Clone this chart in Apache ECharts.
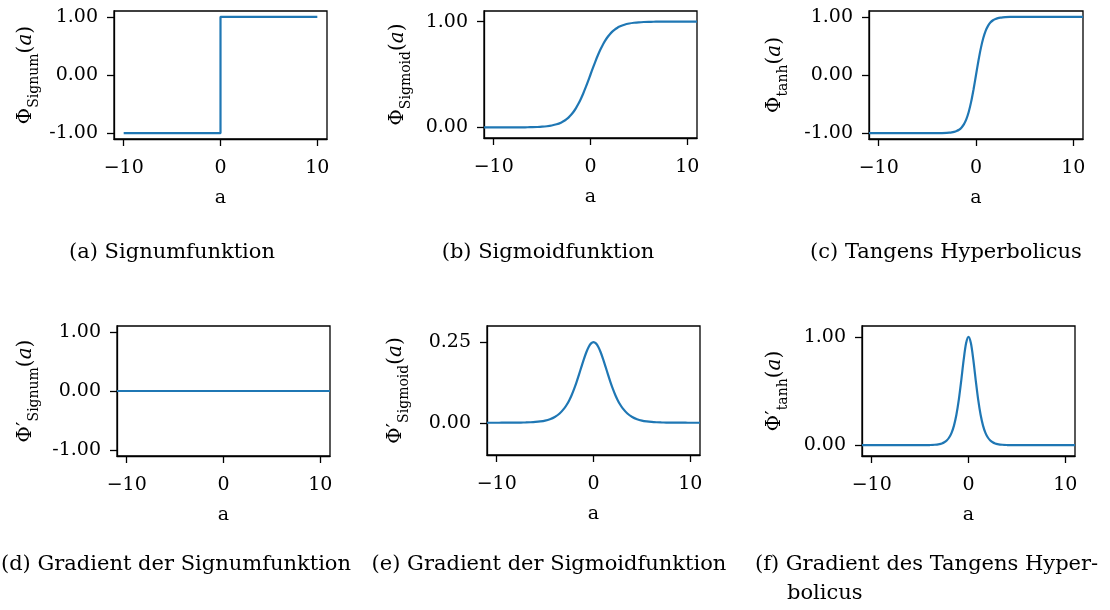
<!DOCTYPE html>
<html><head><meta charset="utf-8">
<script src="https://cdn.jsdelivr.net/npm/echarts@6/dist/echarts.min.js"></script>
<style>html,body{margin:0;padding:0;background:#fff}#c{width:1110px;height:610px}</style>
</head><body><div id="c"></div>
<script>
// ---- data ----
const signX = [-10, 0, 0, 10];
const signY = [-1, -1, 1, 1];
const signGradX = [-11, 11];
const signGradY = [0, 0];

const aValues = [-11,-10.5,-10,-9.5,-9,-8.5,-8,-7.5,-7,-6.5,-6,-5.5,-5,-4.5,-4,-3.5,-3,
  -2.75,-2.5,-2.25,-2,-1.75,-1.5,-1.25,-1,-0.75,-0.5,-0.25,0,0.25,0.5,0.75,1,1.25,1.5,1.75,2,2.25,2.5,2.75,
  3,3.5,4,4.5,5,5.5,6,6.5,7,7.5,8,8.5,9,9.5,10,10.5,11];

const sigmoidY = [0.0000,0.0000,0.0000,0.0001,0.0001,0.0002,0.0003,0.0006,0.0009,0.0015,0.0025,0.0041,0.0067,0.0110,0.0180,0.0293,0.0474,
  0.0601,0.0759,0.0953,0.1192,0.1480,0.1824,0.2227,0.2689,0.3208,0.3775,0.4378,0.5000,0.5622,0.6225,0.6792,0.7311,0.7773,0.8176,0.8520,0.8808,0.9047,0.9241,0.9399,
  0.9526,0.9707,0.9820,0.9890,0.9933,0.9959,0.9975,0.9985,0.9991,0.9994,0.9997,0.9998,0.9999,0.9999,1.0000,1.0000,1.0000];

const sigmoidGradY = [0.0000,0.0000,0.0000,0.0001,0.0001,0.0002,0.0003,0.0006,0.0009,0.0015,0.0025,0.0041,0.0066,0.0109,0.0177,0.0285,0.0452,
  0.0565,0.0701,0.0862,0.1050,0.1261,0.1491,0.1731,0.1966,0.2179,0.2350,0.2461,0.2500,0.2461,0.2350,0.2179,0.1966,0.1731,0.1491,0.1261,0.1050,0.0862,0.0701,0.0565,
  0.0452,0.0285,0.0177,0.0109,0.0066,0.0041,0.0025,0.0015,0.0009,0.0006,0.0003,0.0002,0.0001,0.0001,0.0000,0.0000,0.0000];

const tanhY = [-1.0000,-1.0000,-1.0000,-1.0000,-1.0000,-1.0000,-1.0000,-1.0000,-1.0000,-1.0000,-1.0000,-1.0000,-0.9999,-0.9998,-0.9993,-0.9982,-0.9951,
  -0.9919,-0.9866,-0.9780,-0.9640,-0.9414,-0.9051,-0.8483,-0.7616,-0.6351,-0.4621,-0.2449,0.0000,0.2449,0.4621,0.6351,0.7616,0.8483,0.9051,0.9414,0.9640,0.9780,0.9866,0.9919,
  0.9951,0.9982,0.9993,0.9998,0.9999,1.0000,1.0000,1.0000,1.0000,1.0000,1.0000,1.0000,1.0000,1.0000,1.0000,1.0000,1.0000];

const tanhGradY = [0.0000,0.0000,0.0000,0.0000,0.0000,0.0000,0.0000,0.0000,0.0000,0.0000,0.0000,0.0001,0.0002,0.0005,0.0013,0.0036,0.0099,
  0.0161,0.0266,0.0435,0.0707,0.1138,0.1807,0.2804,0.4200,0.5966,0.7864,0.9400,1.0000,0.9400,0.7864,0.5966,0.4200,0.2804,0.1807,0.1138,0.0707,0.0435,0.0266,0.0161,
  0.0099,0.0036,0.0013,0.0005,0.0002,0.0001,0.0000,0.0000,0.0000,0.0000,0.0000,0.0000,0.0000,0.0000,0.0000,0.0000,0.0000];

const xTicks = [-10, 0, 10];
const yTicksPM = [-1, 0, 1];
const yTicks01 = [0, 1];
const yTicksSigGrad = [0, 0.25];

const yLabelSubs = ['Signum', 'Sigmoid', 'tanh', 'Signum', 'Sigmoid', 'tanh'];
const captionsTop = ['(a) Signumfunktion', '(b) Sigmoidfunktion', '(c) Tangens Hyperbolicus'];
const captionsBottom = ['(d) Gradient der Signumfunktion', '(e) Gradient der Sigmoidfunktion', '(f) Gradient des Tangens Hyper-', 'bolicus'];

// ---- layout ----
const F = 'DejaVu Serif';
const BLUE = '#1f77b4';
const panels = [
  {left:114, top:11,  width:213, height:128, ymin:-1.1, ymax:1.1, ticks:yTicksPM, gap:73, prime:false},
  {left:484, top:11,  width:213, height:127, ymin:-0.1, ymax:1.1, ticks:yTicks01, gap:71, prime:false},
  {left:869, top:11,  width:214, height:128, ymin:-1.1, ymax:1.1, ticks:yTicksPM, gap:79, prime:false},
  {left:117, top:326, width:213, height:130, ymin:-1.1, ymax:1.1, ticks:yTicksPM, gap:76, prime:true},
  {left:487, top:326, width:213, height:129, ymin:-0.1, ymax:0.3, ticks:yTicksSigGrad, gap:76, prime:true},
  {left:862, top:326, width:213, height:130, ymin:-0.1, ymax:1.1, ticks:yTicks01, gap:72, prime:true}
];
const seriesData = [
  signX.map((x,i)=>[x, signY[i]]),
  aValues.map((x,i)=>[x, sigmoidY[i]]),
  aValues.map((x,i)=>[x, tanhY[i]]),
  signGradX.map((x,i)=>[x, signGradY[i]]),
  aValues.map((x,i)=>[x, sigmoidGradY[i]]),
  aValues.map((x,i)=>[x, tanhGradY[i]])
];

const lineCol = {color:'#000', width:1.3};
const rich = {
  p: {fontFamily:F, fontSize:20, lineHeight:30, color:'#000'},
  q: {fontFamily:F, fontSize:20, lineHeight:30, color:'#000'},
  s: {fontFamily:F, fontSize:14, lineHeight:15, verticalAlign:'bottom', color:'#000'},
  m: {fontFamily:F, fontSize:20, lineHeight:30, color:'#000'},
  i: {fontFamily:F, fontSize:20, lineHeight:30, fontStyle:'italic', color:'#000'}
};

const grid = [], xAxis = [], yAxis = [], series = [];
panels.forEach((p, k) => {
  grid.push({left:p.left, top:p.top, width:p.width, height:p.height, show:true, borderColor:'#000', borderWidth:1.3, backgroundColor:'transparent'});
  xAxis.push({
    type:'value', gridIndex:k, min:-11, max:11,
    name:'a', nameLocation:'middle', nameGap:50,
    nameTextStyle:{fontFamily:F, fontSize:19, color:'#000'},
    axisLine:{show:true, onZero:false, lineStyle:lineCol},
    axisTick:{show:true, length:7, lineStyle:lineCol, customValues:xTicks},
    axisLabel:{customValues:xTicks, margin:20, fontFamily:F, fontSize:19, color:'#000',
      formatter:v => v < 0 ? '\u2212' + Math.abs(v) : String(v)},
    splitLine:{show:false}
  });
  yAxis.push({
    type:'value', gridIndex:k, min:p.ymin, max:p.ymax,
    name:'{p|Φ}' + (p.prime ? '{q|′}' : '') + '{s|' + yLabelSubs[k] + '}{m|(}{i|a}{m|)}',
    nameLocation:'middle', nameRotate:90, nameGap:p.gap,
    nameTextStyle:{rich:rich, fontFamily:F, fontSize:20, color:'#000'},
    axisLine:{show:true, onZero:false, lineStyle:lineCol},
    axisTick:{show:true, length:7, lineStyle:lineCol, customValues:p.ticks},
    axisLabel:{customValues:p.ticks, margin:16, fontFamily:F, fontSize:19, color:'#000',
      formatter:v => v.toFixed(2)},
    splitLine:{show:false}
  });
  series.push({
    type:'line', xAxisIndex:k, yAxisIndex:k, data:seriesData[k],
    showSymbol:false, symbol:'none',
    smooth: k === 0 || k === 3 ? false : 0.3,
    lineStyle:{color:BLUE, width:2.2}, itemStyle:{color:BLUE},
    animation:false, silent:true
  });
});

const capStyle = {font:'21px "DejaVu Serif"', fill:'#000', textVerticalAlign:'middle'};
const graphic = [
  {type:'text', x:172, y:253, style:Object.assign({text:captionsTop[0], textAlign:'center'}, capStyle)},
  {type:'text', x:548, y:253, style:Object.assign({text:captionsTop[1], textAlign:'center'}, capStyle)},
  {type:'text', x:946, y:253, style:Object.assign({text:captionsTop[2], textAlign:'center'}, capStyle)},
  {type:'text', x:176, y:565, style:Object.assign({text:captionsBottom[0], textAlign:'center'}, capStyle)},
  {type:'text', x:549, y:565, style:Object.assign({text:captionsBottom[1], textAlign:'center'}, capStyle)},
  {type:'text', x:755, y:565, style:Object.assign({text:captionsBottom[2], textAlign:'left'}, capStyle)},
  {type:'text', x:787, y:594, style:Object.assign({text:captionsBottom[3], textAlign:'left'}, capStyle)}
];

const chart = echarts.init(document.getElementById('c'), null, {renderer:'canvas'});
chart.setOption({animation:false, backgroundColor:'#fff', grid, xAxis, yAxis, series, graphic});
</script>
</body></html>
